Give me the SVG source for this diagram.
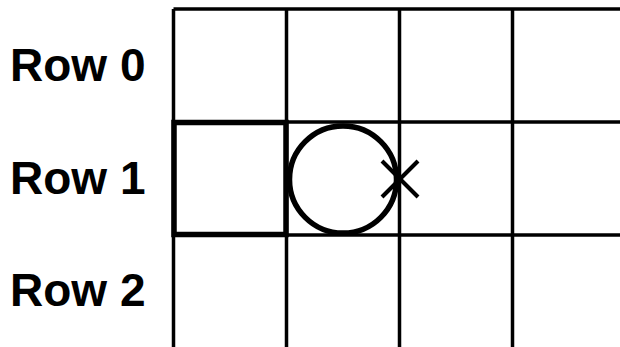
<svg xmlns="http://www.w3.org/2000/svg" width="620" height="347" viewBox="0 0 620 347">
  <style>
    .grid { stroke: #000; stroke-width: 3.5; fill: none; }
    .label { font-family: "Liberation Sans", Arial, sans-serif; font-weight: bold; font-size: 46px; fill: #000; }
    .bold { stroke: #000; stroke-width: 5.5; fill: none; }
  </style>
  <rect width="620" height="347" fill="#fff"/>
  <g id="labels">
    <text class="label" x="10" y="81">Row 0</text>
    <text class="label" x="10" y="193.5">Row 1</text>
    <text class="label" x="10" y="305.5">Row 2</text>
  </g>
  <g id="grid" class="grid">
    <line x1="173.5" y1="9" x2="620" y2="9"/>
    <line x1="173.5" y1="122" x2="620" y2="122"/>
    <line x1="173.5" y1="235" x2="620" y2="235"/>
    <line x1="173.5" y1="9" x2="173.5" y2="347"/>
    <line x1="286.5" y1="9" x2="286.5" y2="347"/>
    <line x1="399.5" y1="9" x2="399.5" y2="347"/>
    <line x1="512.5" y1="9" x2="512.5" y2="347"/>
  </g>
  <g id="square">
    <rect class="bold" x="174" y="122.5" width="112" height="112"/>
  </g>
  <g id="circle">
    <circle class="bold" cx="343" cy="179.5" r="53.5"/>
  </g>
  <g id="cross">
    <line x1="382" y1="161" x2="418" y2="197" stroke="#000" stroke-width="4"/>
    <line x1="418" y1="161" x2="382" y2="197" stroke="#000" stroke-width="4"/>
  </g>
</svg>
